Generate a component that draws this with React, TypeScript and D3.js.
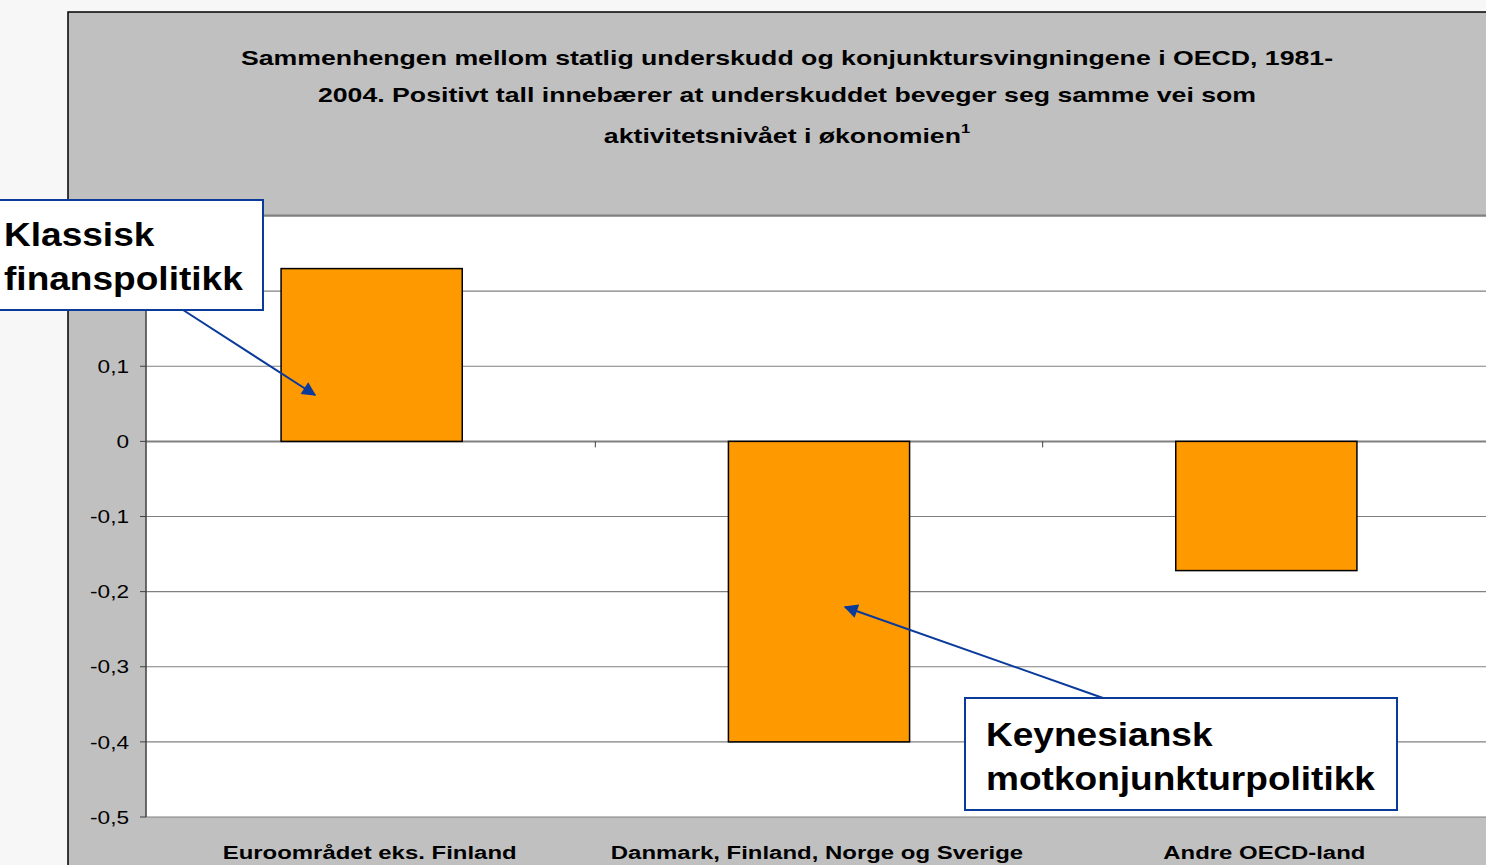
import React from "react";
import * as d3 from "d3";

const categories = ["Euroområdet eks. Finland", "Danmark, Finland, Norge og Sverige", "Andre OECD-land"];
const values = [0.23, -0.4, -0.172];
const yTicks = [0.3, 0.2, 0.1, 0, -0.1, -0.2, -0.3, -0.4, -0.5];
const titleLines = [
  "Sammenhengen mellom statlig underskudd og konjunktursvingningene i OECD, 1981-",
  "2004. Positivt tall innebærer at underskuddet beveger seg samme vei som",
];
const titleLine3 = "aktivitetsnivået i økonomien";
const note1 = ["Klassisk", "finanspolitikk"];
const note2 = ["Keynesiansk", "motkonjunkturpolitikk"];

export default function App() {
  const W = 1486, H = 865;
  const axisX = 146, top = 216, bottom = 817;
  const y = d3.scaleLinear().domain([-0.5, 0.3]).range([bottom, top]);
  const x = d3.scaleBand().domain(categories).range([148, 1490]).paddingInner(0.595).paddingOuter(0.2975);
  const xb = d3.scaleBand().domain(categories).range([148, 1490]);
  const fmt = (v: number) => (Math.abs(v) < 1e-9 ? "0" : d3.format(".1f")(v).replace(".", ",").replace("−", "-"));
  const font = "'Liberation Sans', Arial, sans-serif";
  const blue = "#0a3a9a";
  const tcx = 787;
  return (
    <div style={{ position: "fixed", left: 0, top: 0 }}>
      <svg width={W} height={H} style={{ display: "block" }} fontFamily={font}>
        <defs>
          <marker id="ah" viewBox="0 0 10 10" refX="9" refY="5" markerWidth="8" markerHeight="7" orient="auto" markerUnits="strokeWidth">
            <path d="M0,0 L10,5 L0,10 z" fill={blue} />
          </marker>
        </defs>
        <rect x={0} y={0} width={W} height={H} fill="#f7f7f7" />
        <rect x={68} y={12} width={W} height={H} fill="#c0c0c0" stroke="#000" strokeWidth={1.5} />
        <rect x={axisX} y={top} width={W - axisX} height={bottom - top} fill="#fff" />
        <line x1={axisX} x2={W} y1={top - 0.5} y2={top - 0.5} stroke="#808080" strokeWidth={2} />
        {yTicks.map((t) => (
          <g key={t}>
            <line x1={axisX} x2={W} y1={y(t)} y2={y(t)} stroke="#808080" strokeWidth={t === 0 ? 2 : 1.2} />
            <line x1={axisX - 6} x2={axisX} y1={y(t)} y2={y(t)} stroke="#404040" strokeWidth={1} />
            <text transform={`translate(129,${y(t)}) scale(1.19,1)`} dy="0.35em" textAnchor="end" fontSize={19} fill="#000">{fmt(t)}</text>
          </g>
        ))}
        <line x1={axisX} x2={axisX} y1={top} y2={bottom} stroke="#404040" strokeWidth={1.5} />
        {categories.slice(1).map((c) => (
          <line key={c} x1={xb(c)!} x2={xb(c)!} y1={y(0)} y2={y(0) + 6} stroke="#404040" strokeWidth={1} />
        ))}
        {categories.map((c, i) => (
          <rect key={c} x={x(c)!} y={y(Math.max(0, values[i]))} width={x.bandwidth()} height={Math.abs(y(values[i]) - y(0))}
            fill="#ff9900" stroke="#000" strokeWidth={1.5} />
        ))}
        {categories.map((c) => (
          <text key={c} transform={`translate(${xb(c)! + xb.bandwidth() / 2 - 2},859) scale(1.26,1)`} textAnchor="middle" fontSize={19} fontWeight="bold">{c}</text>
        ))}
        {titleLines.map((l, i) => (
          <text key={i} transform={`translate(${tcx},${65 + i * 37}) scale(1.27,1)`} textAnchor="middle" fontSize={21} fontWeight="bold">{l}</text>
        ))}
        <text transform={`translate(${tcx},143) scale(1.27,1)`} textAnchor="middle" fontSize={21} fontWeight="bold">
          {titleLine3}
          <tspan fontSize={13} dy={-10}>1</tspan>
        </text>
        {/* annotation 1 */}
        <line x1={180} y1={308} x2={315} y2={395} stroke={blue} strokeWidth={2} markerEnd="url(#ah)" />
        <rect x={-2} y={200} width={265} height={110} fill="#fff" stroke={blue} strokeWidth={2} />
        {note1.map((l, i) => (
          <text key={l} transform={`translate(4,${246 + i * 44}) scale(1.09,1)`} fontSize={34} fontWeight="bold">{l}</text>
        ))}
        {/* annotation 2 */}
        <line x1={1103} y1={698} x2={845} y2={607} stroke={blue} strokeWidth={2} markerEnd="url(#ah)" />
        <rect x={965} y={698} width={432} height={112} fill="#fff" stroke={blue} strokeWidth={2} />
        {note2.map((l, i) => (
          <text key={l} transform={`translate(986,${746 + i * 44}) scale(1.09,1)`} fontSize={34} fontWeight="bold">{l}</text>
        ))}
      </svg>
    </div>
  );
}
